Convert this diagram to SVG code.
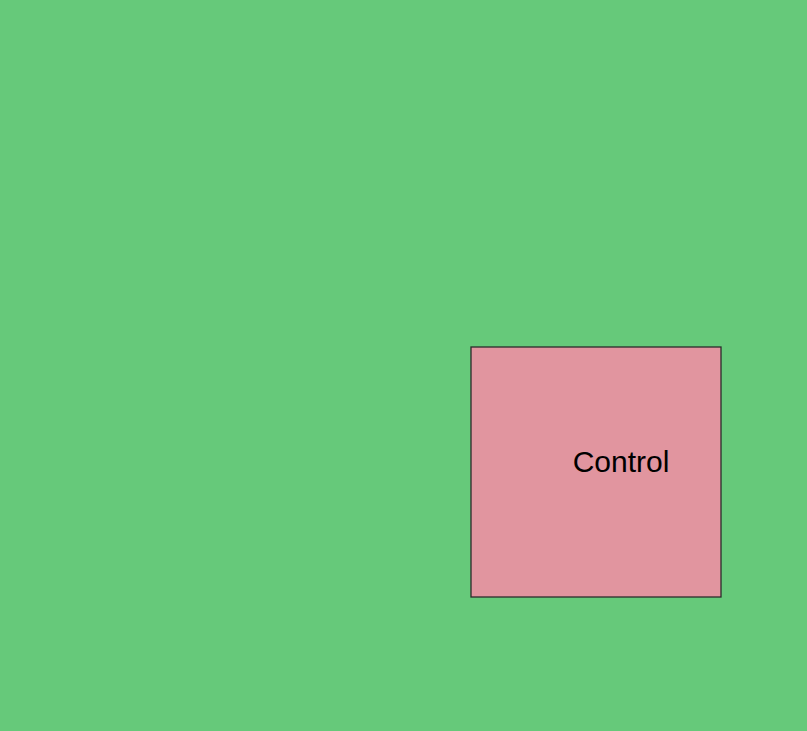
<svg xmlns="http://www.w3.org/2000/svg" width="807" height="731" viewBox="0 0 807 731">
<style>
.node{fill:#E1959F;stroke:#2b2b2b;stroke-width:1.3}
.lbl{font-family:"Liberation Sans",Arial,sans-serif;font-size:30px;fill:#000;text-anchor:middle}
</style>
<rect x="0" y="0" width="807" height="731" fill="#66C97A"/>
<g id="connectors"></g>
<g id="control">
<rect class="node" x="471" y="347" width="250" height="250"/>
<text class="lbl" x="621" y="472">Control</text>
</g>
</svg>
